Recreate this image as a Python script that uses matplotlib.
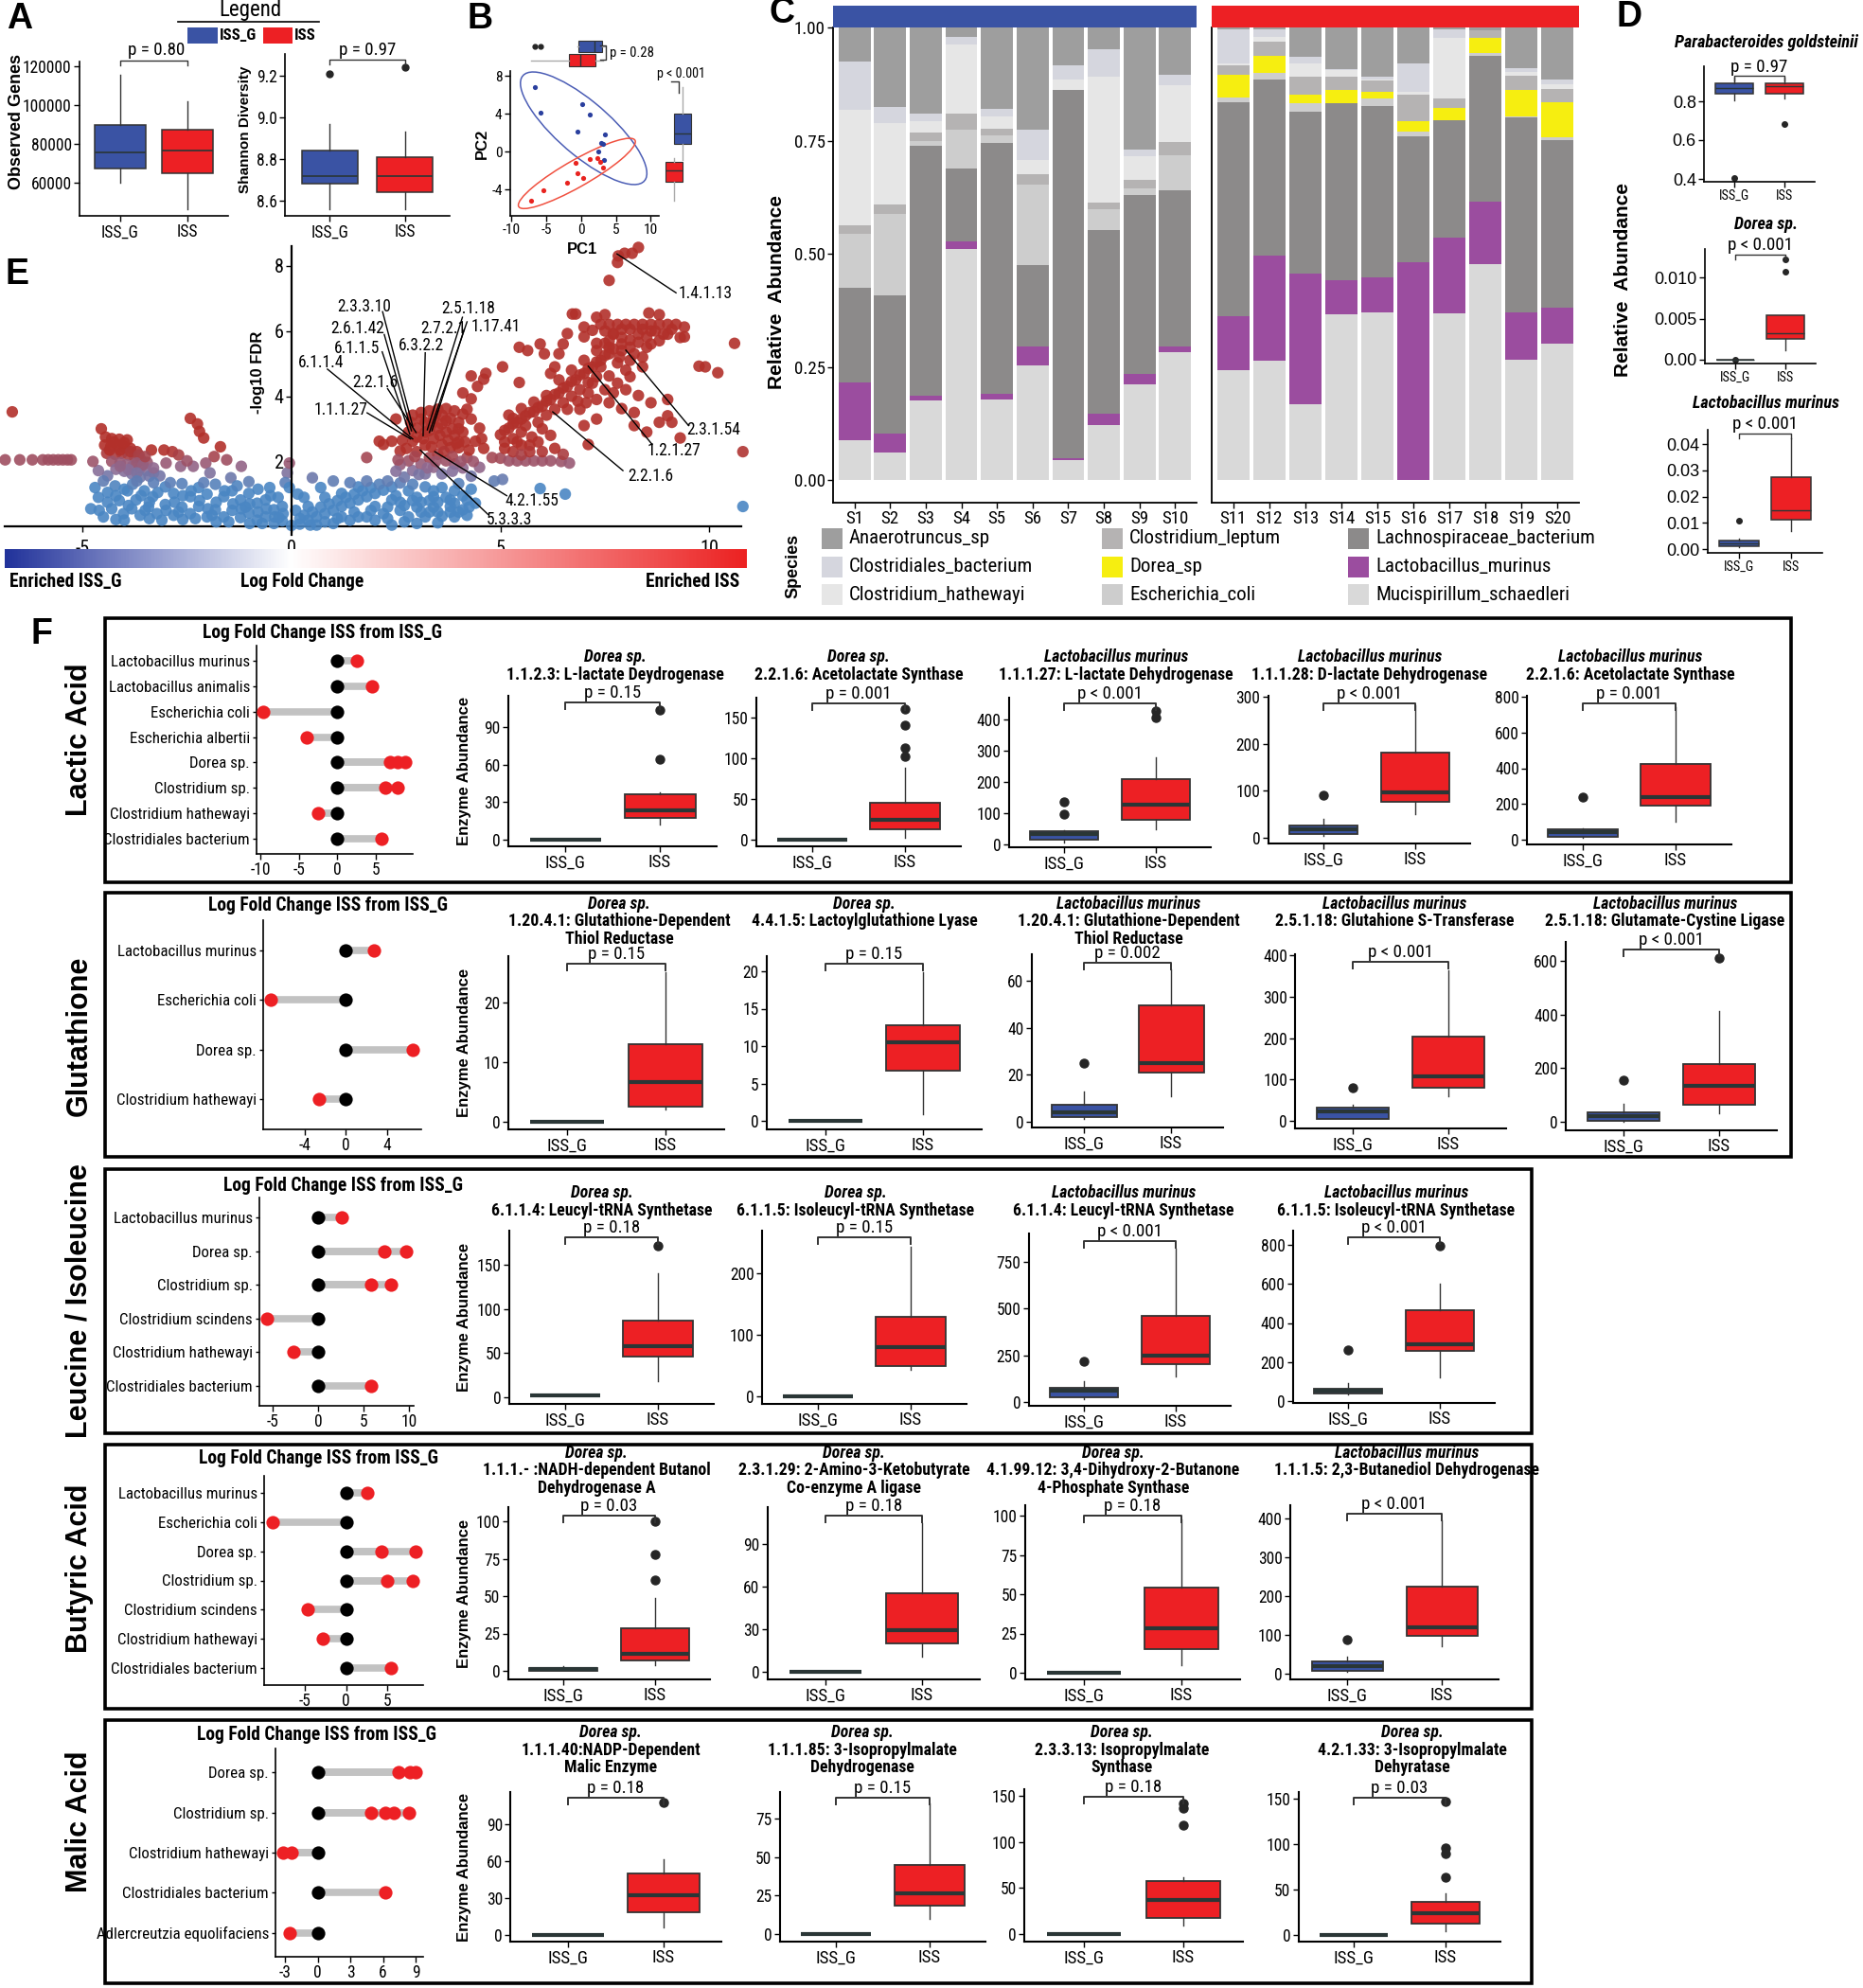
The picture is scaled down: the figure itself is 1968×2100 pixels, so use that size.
import matplotlib
matplotlib.use('Agg')
import matplotlib.pyplot as plt
import numpy as np
from matplotlib import font_manager, cbook
from matplotlib.patches import Rectangle, Ellipse
from matplotlib.lines import Line2D
from matplotlib.colors import LinearSegmentedColormap, TwoSlopeNorm, Normalize

# fuentes: se busca una letra condensada parecida a la del original
_fonts = font_manager.fontManager.ttflist
_names = {f.name for f in _fonts}
STRETCH = 'normal'
if 'Liberation Sans Narrow' in _names:
    NARROW, NS = 'Liberation Sans Narrow', 1.0
elif 'Roboto Condensed' in _names:
    NARROW, NS = 'Roboto Condensed', 0.97
elif 'DejaVu Sans Condensed' in _names:
    NARROW, NS = 'DejaVu Sans Condensed', 0.9
elif any(f.name == 'DejaVu Sans' and f.stretch == 'condensed' for f in _fonts):
    NARROW, NS, STRETCH = 'DejaVu Sans', 0.9, 'condensed'
else:
    NARROW, NS = 'Liberation Sans', 0.84
WIDE = 'Liberation Sans'
plt.rcParams['font.family'] = [NARROW, 'DejaVu Sans']
plt.rcParams['font.stretch'] = STRETCH
plt.rcParams['axes.unicode_minus'] = False

BLUE = '#3a53a4'
RED = '#ed2024'
EDGE = '#333333'

# ---------------- datos ----------------
groups = ['ISS_G', 'ISS']

# A  (bigote inf, q1, mediana, q3, bigote sup)
obs_genes_iss_g = [60200, 67500, 75700, 89700, 115400]
obs_genes_iss = [46200, 65100, 76400, 87300, 102000]
shannon_iss_g = [8.56, 8.68, 8.72, 8.84, 8.97]
shannon_iss = [8.56, 8.64, 8.72, 8.81, 8.93]
shannon_out_iss_g = [9.21]
shannon_out_iss = [9.24]

# B  PCA
pc1_iss_g = [-6.6, -5.8, 0.1, 1.3, -0.5, 3.4, 2.9, 3.1, 3.3, 2.5]
pc2_iss_g = [6.8, 4.1, 5.0, 3.9, 2.1, 1.8, 0.9, 0.8, -0.9, 0.0]
pc1_iss = [-7.2, -5.4, -2.0, -0.5, 0.3, -0.8, 1.3, 2.4, 2.7, 3.1]
pc2_iss = [-5.2, -4.1, -3.3, -2.3, -2.8, -1.2, -0.8, -0.7, -1.1, -1.7]

# C  abundancia relativa por especie (S1..S20)
samples = ['S1', 'S2', 'S3', 'S4', 'S5', 'S6', 'S7', 'S8', 'S9', 'S10',
           'S11', 'S12', 'S13', 'S14', 'S15', 'S16', 'S17', 'S18', 'S19', 'S20']
species = ['Anaerotruncus_sp', 'Clostridiales_bacterium', 'Clostridium_hathewayi',
           'Clostridium_leptum', 'Dorea_sp', 'Escherichia_coli',
           'Lachnospiraceae_bacterium', 'Lactobacillus_murinus', 'Mucispirillum_schaedleri']
species_colors = ['#9e9e9e', '#d5d6de', '#e6e6e6', '#b5b3b3', '#f6ee10',
                  '#cdcdcd', '#8c8a8a', '#9b4d9f', '#d9d9d9']
anaerotruncus = [.075, .176, .190, .020, .179, .226, .084, .048, .270, .105,
                 .004, .005, .065, .092, .109, .079, .007, .007, .092, .114]
clostridiales_bact = [.107, .036, .018, .017, .018, .067, .031, .060, .014, .023,
                      .075, .015, .014, .003, .005, .064, .017, .000, .009, .011]
clostridium_hath = [.256, .179, .025, .153, .026, .032, .024, .279, .052, .126,
                    .005, .011, .030, .014, .004, .005, .135, .000, .008, .012]
clostridium_lept = [.017, .021, .017, .035, .016, .022, .000, .014, .019, .029,
                    .021, .031, .039, .030, .025, .059, .021, .015, .032, .028]
dorea = [0, 0, 0, 0, 0, 0, 0, 0, 0, 0,
         .049, .039, .019, .028, .013, .024, .026, .034, .058, .077]
escherichia = [.120, .180, .011, .087, .017, .179, .000, .047, .016, .076,
               .011, .013, .019, .000, .017, .009, .002, .006, .002, .007]
lachno = [.209, .306, .553, .160, .554, .179, .813, .406, .394, .346,
          .472, .391, .357, .391, .379, .279, .258, .322, .430, .370]
lacto = [.128, .041, .010, .017, .012, .041, .003, .024, .023, .012,
         .120, .232, .290, .076, .078, .481, .168, .139, .105, .080]
mucispirillum = [.088, .061, .176, .511, .178, .254, .045, .122, .212, .283,
                 .243, .263, .167, .366, .370, .000, .368, .477, .266, .301]

# D
parab_iss_g = [0.804, 0.839, 0.866, 0.895, 0.92]
parab_iss = [0.814, 0.837, 0.88, 0.891, 0.92]
parab_out_g = [0.406]
parab_out = [0.682]
dorea_rel_iss_g = [0, 0, 0, 0, 0]
dorea_rel_iss = [0.00114, 0.0025, 0.00318, 0.00536, 0.00536]
dorea_rel_out_g = [0.0]
dorea_rel_out = [0.0107, 0.0122]
lmur_rel_iss_g = [0.0008, 0.0012, 0.0023, 0.0033, 0.004]
lmur_rel_iss = [0.0069, 0.0112, 0.0148, 0.0273, 0.0422]
lmur_rel_out_g = [0.0109]
lmur_rel_out = []

# E  volcano (log fold change, -log10 FDR)
volcano_pts = [
    # izquierda, linea plana y brazo rojo
    (-6.85, 2.05), (-6.5, 2.05), (-6.2, 2.05), (-5.95, 2.05), (-5.82, 2.05), (-5.7, 2.05), (-5.58, 2.05),
    (-5.47, 2.05), (-5.36, 2.05), (-5.27, 2.05), (-6.68, 3.52),
    (-4.55, 3.0), (-4.45, 2.75), (-4.3, 2.7), (-4.12, 2.68), (-3.93, 2.66), (-4.47, 2.5), (-4.32, 2.47),
    (-4.16, 2.5), (-4.0, 2.45), (-3.85, 2.4), (-3.7, 2.3), (-4.42, 2.25), (-4.22, 2.22), (-4.06, 2.25),
    (-3.9, 2.2), (-3.75, 2.12), (-3.6, 2.05), (-3.45, 1.97), (-4.3, 2.0), (-4.1, 1.96), (-3.95, 1.9),
    (-3.8, 1.86), (-3.62, 1.8), (-3.47, 1.72), (-3.3, 1.65), (-3.15, 1.56), (-4.2, 1.76), (-4.0, 1.7),
    (-3.82, 1.62), (-3.62, 1.52), (-4.4, 1.56), (-4.62, 1.72), (-4.75, 2.0), (-3.35, 2.35), (-3.05, 2.35),
    (-2.85, 2.3), (-2.7, 2.2), (-2.42, 3.32), (-2.25, 3.15), (-2.2, 2.92), (-2.1, 2.72), (-1.7, 2.45),
    (-1.55, 2.05), (-1.85, 2.15), (-2.05, 1.95), (-2.35, 1.85), (-1.2, 1.85), (-1.45, 1.5), (-1.95, 1.65),
    (-2.65, 1.85), (-3.0, 1.95), (-2.5, 2.02), (-0.1, 1.65), (-0.05, 1.95), (-0.15, 1.35),
    (-4.35, 2.35), (-4.1, 2.35), (-3.85, 2.3), (-3.65, 2.2), (-4.25, 2.6), (-4.0, 2.58), (-3.7, 1.95),
    (-3.55, 1.9), (-3.9, 1.75), (-3.7, 1.65), (-4.1, 1.85), (-3.4, 1.55), (-3.3, 1.8), (-3.5, 2.15),
    # izquierda, nube azul
    (-4.8, 0.55), (-4.62, 0.9), (-4.7, 1.2), (-4.5, 0.3), (-4.3, 0.55), (-4.12, 0.8), (-3.92, 1.1),
    (-4.22, 1.25), (-3.72, 0.82), (-3.52, 1.1), (-3.32, 0.92), (-3.02, 1.22), (-2.82, 1.02), (-2.62, 1.32),
    (-2.42, 0.92), (-2.22, 1.2), (-2.02, 1.0), (-1.82, 1.3), (-1.62, 0.92), (-1.42, 1.1), (-1.22, 0.82),
    (-1.02, 1.02), (-0.82, 0.72), (-0.62, 0.82), (-0.42, 0.52), (-0.22, 0.62), (-4.02, 0.4), (-3.62, 0.35),
    (-3.22, 0.4), (-2.82, 0.35), (-2.42, 0.4), (-2.02, 0.3), (-1.62, 0.3), (-1.22, 0.28), (-0.82, 0.2),
    (-0.42, 0.1), (0.0, 0.04), (-3.42, 0.6), (-3.02, 0.68), (-2.62, 0.6), (-2.22, 0.62), (-1.82, 0.52),
    (-1.42, 0.5), (-1.02, 0.42), (-0.62, 0.3), (-0.22, 0.18), (-1.02, 1.38), (-0.52, 1.2), (-0.32, 0.9),
    (-3.82, 0.55), (-4.2, 0.22), (-3.4, 0.25), (-2.6, 0.22), (-1.8, 0.15), (-1.0, 0.1),
    (-4.4, 0.75), (-4.2, 0.95), (-4.0, 1.15), (-3.8, 1.3), (-3.6, 0.95), (-3.4, 0.75), (-3.2, 1.05),
    (-3.0, 0.5), (-2.8, 0.75), (-2.6, 0.95), (-2.4, 1.1), (-2.2, 0.8), (-2.0, 0.55), (-1.8, 0.75),
    (-1.6, 1.1), (-1.4, 0.7), (-1.2, 0.55), (-1.0, 0.7), (-0.8, 0.45), (-0.6, 0.55), (-0.4, 0.3),
    (-0.2, 0.4), (-4.4, 1.05), (-3.9, 0.65), (-3.5, 0.5), (-3.1, 0.2), (-2.7, 0.45), (-2.3, 0.25),
    (-1.9, 0.35), (-1.5, 0.15), (-1.1, 0.6), (-0.7, 0.1), (-0.3, 0.28), (-4.6, 0.5), (-4.0, 0.2),
    (-2.9, 1.35), (-2.1, 1.35), (-1.3, 1.25), (-0.8, 1.15), (-0.5, 0.95), (-4.5, 1.4), (-3.7, 1.4),
    (-3.3, 1.35),
    # derecha, nube azul
    (0.2, 0.08), (0.4, 0.2), (0.6, 0.3), (0.8, 0.4), (1.0, 0.5), (1.2, 0.62), (1.4, 0.72), (1.6, 0.82),
    (1.8, 0.92), (2.0, 1.02), (2.2, 1.12), (2.4, 1.22), (2.6, 1.34), (0.4, 0.62), (0.8, 0.9), (1.2, 1.02),
    (1.6, 1.22), (0.6, 0.05), (1.0, 0.1), (1.4, 0.2), (1.8, 0.3), (2.2, 0.4), (2.6, 0.5), (3.0, 0.6),
    (3.4, 0.6), (3.8, 0.62), (4.1, 0.52), (4.4, 0.72), (3.0, 0.9), (3.4, 0.92), (3.8, 0.82), (4.2, 0.82),
    (2.8, 0.3), (3.2, 0.3), (3.6, 0.32), (3.9, 0.3), (2.0, 0.62), (2.4, 0.82), (2.8, 1.1), (3.2, 1.22),
    (3.6, 1.2), (4.3, 1.55), (4.0, 1.32), (5.05, 1.45), (4.85, 1.4), (5.95, 1.17), (6.55, 1.0), (1.0, 1.4),
    (0.5, 1.5), (2.0, 0.2), (1.5, 0.45), (3.0, 0.1), (3.5, 0.12), (2.4, 0.05), (1.2, 0.3), (2.6, 0.75),
    (3.3, 0.45), (4.0, 0.45),
    (0.3, 0.35), (0.5, 0.45), (0.7, 0.6), (0.9, 0.7), (1.1, 0.8), (1.3, 0.9), (1.5, 1.0), (1.7, 1.1),
    (1.9, 1.2), (2.1, 1.3), (2.3, 1.4), (0.2, 0.25), (0.45, 0.05), (0.8, 0.15), (1.1, 0.25), (1.6, 0.3),
    (1.9, 0.5), (2.3, 0.6), (2.7, 0.65), (3.1, 0.75), (3.5, 0.75), (3.9, 0.72), (4.25, 0.6), (2.5, 0.95),
    (2.9, 0.8), (3.3, 0.8), (3.7, 0.9), (4.1, 0.95), (2.3, 0.25), (2.7, 0.15), (3.1, 0.45), (3.5, 0.45),
    (3.8, 0.45), (4.2, 0.35), (1.4, 1.35), (0.7, 1.2), (0.3, 0.9), (1.8, 1.4), (2.9, 1.3), (3.4, 1.1),
    (3.9, 1.1), (4.3, 1.15), (0.1, 0.5), (0.15, 1.0), (-0.05, 1.2),
    # derecha, brazo rojo
    (2.7, 1.52), (2.9, 1.72), (3.1, 1.92), (3.3, 2.12), (2.8, 2.02), (3.0, 2.3), (3.2, 2.5), (2.9, 2.62),
    (2.8, 2.9), (3.0, 3.02), (3.2, 3.2), (3.4, 3.32), (3.6, 3.42), (3.8, 3.32), (4.0, 3.2), (3.5, 3.02),
    (3.7, 2.9), (3.9, 2.8), (4.1, 2.9), (3.4, 2.7), (3.6, 2.52), (3.8, 2.42), (4.0, 2.42), (3.5, 2.22),
    (3.7, 2.02), (3.9, 1.92), (4.1, 1.8), (3.4, 1.82), (3.6, 1.62), (3.2, 1.62), (2.9, 3.42), (3.1, 3.5),
    (3.3, 3.55), (3.5, 3.6), (4.2, 3.6), (4.3, 3.92), (4.45, 4.3), (4.6, 4.52), (4.65, 4.7), (4.3, 3.3),
    (4.5, 3.02), (4.4, 2.62), (4.6, 2.4), (2.2, 2.52), (2.6, 2.32), (2.4, 2.62), (1.8, 2.12), (2.1, 2.62),
    (2.5, 3.3), (4.1, 4.1), (4.3, 4.62), (4.0, 2.6), (4.8, 2.12), (4.5, 1.82), (4.2, 2.12), (3.0, 2.75),
    (3.3, 2.95), (2.6, 1.9), (3.7, 3.62), (3.9, 3.55), (2.5, 1.7), (5.05, 4.9),
    (2.75, 2.4), (2.95, 2.15), (3.15, 2.7), (3.35, 2.45), (3.55, 2.8), (3.75, 2.65), (3.95, 2.55),
    (4.15, 2.6), (3.25, 1.8), (3.45, 2.0), (3.65, 2.3), (3.85, 2.15), (4.05, 2.0), (4.25, 2.35),
    (3.05, 1.6), (3.85, 1.7), (3.1, 3.3), (3.35, 3.15), (3.6, 3.15), (3.85, 3.0), (4.1, 3.45),
    (3.2, 2.9), (2.65, 2.65), (2.85, 3.2), (3.45, 3.45), (3.7, 3.25), (4.0, 3.0), (2.55, 2.05),
    (4.35, 2.0), (4.55, 2.7),
    # extremo derecho
    (5.0, 2.1), (5.2, 2.02), (5.4, 2.02), (5.6, 2.02), (5.8, 2.02), (6.0, 2.02), (6.2, 2.02), (6.45, 2.0),
    (6.65, 1.95), (5.3, 2.3), (5.5, 2.5), (5.7, 2.5), (5.1, 2.6), (5.3, 2.7), (5.5, 2.9), (5.0, 2.82),
    (5.2, 3.02), (5.4, 3.2), (5.6, 3.4), (5.8, 3.52), (6.0, 3.7), (6.2, 3.9), (6.4, 4.1), (6.6, 4.3),
    (6.8, 4.5), (7.0, 4.7), (7.2, 4.9), (7.4, 5.1), (7.6, 5.3), (5.3, 3.32), (5.6, 3.1), (5.9, 3.2),
    (6.1, 3.42), (6.3, 3.6), (6.5, 3.8), (6.7, 4.0), (6.9, 4.2), (7.1, 4.42), (7.3, 4.6), (5.8, 3.82),
    (6.1, 4.02), (6.4, 4.5), (6.7, 4.8), (7.0, 5.1), (7.3, 5.4), (7.5, 5.62), (7.7, 5.9), (5.5, 3.62),
    (5.2, 3.42), (5.1, 2.4), (5.5, 2.2), (5.9, 2.6), (6.2, 2.8), (6.0, 3.0), (5.45, 4.42), (5.45, 5.5),
    (5.65, 5.4), (5.95, 5.6), (6.05, 5.3), (6.2, 4.7), (6.4, 5.3), (6.5, 5.6), (6.3, 4.9), (6.72, 6.52),
    (6.6, 5.92), (7.4, 6.2), (7.6, 6.2), (7.8, 6.2), (8.0, 6.2), (8.2, 6.2), (8.4, 6.2), (8.6, 6.2),
    (8.8, 6.2), (9.0, 6.2), (9.2, 6.2), (9.4, 6.12), (7.5, 6.0), (7.7, 5.92), (7.9, 5.8), (8.1, 5.72),
    (8.3, 5.9), (8.5, 5.82), (8.7, 6.0), (9.0, 5.9), (9.3, 5.8), (7.2, 6.02), (7.0, 5.82), (7.3, 5.62),
    (7.6, 5.5), (7.9, 5.4), (8.2, 5.3), (8.5, 5.5), (8.8, 5.7), (7.8, 5.02), (8.0, 4.8), (7.4, 4.9),
    (7.6, 4.62), (7.2, 4.4), (7.5, 4.2), (7.8, 4.4), (8.1, 4.6), (8.4, 4.9), (8.3, 4.02), (8.6, 3.8),
    (8.2, 3.5), (7.9, 3.62), (7.6, 3.8), (8.8, 3.2), (9.0, 3.4), (9.1, 3.2), (9.3, 2.72), (7.3, 3.3),
    (6.9, 3.6), (7.0, 3.1), (8.55, 6.55), (8.8, 6.5), (9.4, 5.82), (9.9, 4.9), (10.2, 4.72), (10.6, 5.62),
    (10.8, 2.3), (10.8, 0.62), (7.3, 6.42), (7.5, 6.5), (9.0, 3.9), (8.2, 3.1), (8.5, 2.9), (7.1, 2.52),
    (6.5, 2.22), (7.82, 8.3), (7.97, 8.38), (8.15, 8.38), (8.3, 8.56), (7.8, 8.1), (7.6, 7.55), (6.8, 6.52),
    (7.0, 6.12), (9.75, 4.92),
    (5.1, 2.95), (5.3, 3.15), (5.5, 3.3), (5.7, 3.5), (5.9, 3.65), (6.1, 3.85), (6.3, 4.05), (6.5, 4.25),
    (6.7, 4.45), (6.9, 4.65), (7.1, 4.85), (7.3, 5.05), (7.5, 5.25), (7.7, 5.45), (7.9, 5.6), (8.1, 5.5),
    (8.3, 5.65), (8.6, 5.6), (8.9, 5.9), (9.1, 6.05), (7.9, 6.05), (8.1, 6.05), (8.4, 6.05), (8.6, 6.0),
    (7.6, 5.7), (7.85, 5.2), (8.1, 5.1), (8.4, 5.2), (7.1, 4.1), (7.3, 3.9), (7.7, 4.1), (8.0, 4.2),
    (5.7, 2.3), (6.0, 2.3), (6.3, 2.4), (5.4, 2.6), (5.75, 2.75), (6.6, 3.6), (6.85, 3.85), (7.05, 3.8),
]
# etiquetas EC: texto, posicion del texto y linea (x0, y0, x1, y1)
ec_labels = ['1.4.1.13', '2.3.3.10', '2.6.1.42', '6.1.1.5', '6.1.1.4', '2.2.1.6', '1.1.1.27',
             '2.5.1.18', '2.7.2.1', '1.17.41', '6.3.2.2', '4.2.1.55', '5.3.3.3', '2.2.1.6',
             '1.2.1.27', '2.3.1.54']
ec_text_xy = [(9.25, 7.15), (1.74, 6.74), (1.57, 6.08), (1.56, 5.46), (0.70, 5.02), (2.0, 4.42),
              (1.18, 3.59), (4.22, 6.69), (3.63, 6.08), (4.88, 6.13), (3.1, 5.55), (5.75, 0.8),
              (5.2, 0.2), (8.6, 1.55), (9.16, 2.33), (10.09, 2.96)]
ec_lines = [(7.79, 8.36, 9.2, 7.17), (2.18, 6.59, 2.9, 3.08), (2.22, 5.89, 2.87, 2.94),
            (2.17, 5.36, 2.83, 2.84), (0.86, 4.83, 2.9, 2.69), (2.3, 4.23, 2.98, 2.89),
            (1.81, 3.49, 2.85, 2.69), (4.09, 6.42, 3.25, 2.97), (4.2, 6.28, 3.3, 2.89),
            (4.13, 6.04, 3.36, 2.94), (3.2, 5.33, 3.15, 2.79), (3.43, 2.3, 5.15, 0.95),
            (3.08, 2.35, 4.7, 0.38), (6.25, 3.52, 7.93, 1.72), (7.1, 4.92, 8.63, 2.52),
            (8.0, 5.41, 9.5, 3.1)]

# F  -- Lactic acid
lactic_species = ['Lactobacillus murinus', 'Lactobacillus animalis', 'Escherichia coli',
                  'Escherichia albertii', 'Dorea sp.', 'Clostridium sp.',
                  'Clostridium hathewayi', 'Clostridiales bacterium']
lactic_lfc = [[2.5], [4.5], [-9.6], [-4.0], [6.9, 7.8, 8.8], [6.2, 7.8], [-2.5], [5.8]]
lactic_titles = [['Dorea sp.', '1.1.2.3: L-lactate Deydrogenase'],
                 ['Dorea sp.', '2.2.1.6: Acetolactate Synthase'],
                 ['Lactobacillus murinus', '1.1.1.27: L-lactate Dehydrogenase'],
                 ['Lactobacillus murinus', '1.1.1.28: D-lactate Dehydrogenase'],
                 ['Lactobacillus murinus', '2.2.1.6: Acetolactate Synthase']]
lactic_p = ['p = 0.15', 'p = 0.001', 'p < 0.001', 'p < 0.001', 'p = 0.001']
lactic_iss_g = [[0, 0, 0, 0, 0], [0, 0, 0, 0, 0], [5, 15.1, 32, 42.3, 45],
                [4.7, 8.7, 18, 25.4, 39.5], [12, 17.6, 42, 59.8, 65]]
lactic_iss = [[11.8, 17.5, 23.8, 36.6, 38.0], [2.7, 13.2, 24.0, 45.3, 87.8],
              [47.4, 79.6, 128, 210.6, 279], [50, 77, 95.7, 180.6, 281], [100, 193, 241, 425, 742]]
lactic_out_g = [[], [], [97.7, 136], [91.6], [237]]
lactic_out = [[64.4, 103.8], [102, 113, 141, 160], [405, 428], [], []]
lactic_yticks = [[0, 30, 60, 90], [0, 50, 100, 150], [0, 100, 200, 300, 400],
                 [0, 100, 200, 300], [0, 200, 400, 600, 800]]

# F  -- Glutathione
glut_species = ['Lactobacillus murinus', 'Escherichia coli', 'Dorea sp.', 'Clostridium hathewayi']
glut_lfc = [[2.7], [-7.3], [6.5], [-2.6]]
glut_titles = [['Dorea sp.', '1.20.4.1: Glutathione-Dependent', 'Thiol Reductase'],
               ['Dorea sp.', '4.4.1.5: Lactoylglutathione Lyase'],
               ['Lactobacillus murinus', '1.20.4.1: Glutathione-Dependent', 'Thiol Reductase'],
               ['Lactobacillus murinus', '2.5.1.18: Glutahione S-Transferase'],
               ['Lactobacillus murinus', '2.5.1.18: Glutamate-Cystine Ligase']]
glut_p = ['p = 0.15', 'p = 0.15', 'p = 0.002', 'p < 0.001', 'p < 0.001']
glut_iss_g = [[0, 0, 0, 0, 0], [0, 0, 0, 0, 0], [1.3, 2.0, 4.0, 7.1, 13],
              [3.8, 5.3, 22.9, 32, 39.7], [0, 3.5, 20, 35.3, 67]]
glut_iss = [[2.1, 2.5, 6.6, 13.0, 25.1], [0.9, 6.7, 10.45, 12.74, 19.9],
            [10.7, 20.8, 25.1, 49.7, 64.7], [58.8, 80.2, 108.4, 203.8, 364],
            [33, 64.7, 133, 215, 411.8]]
glut_out_g = [[], [], [24.8], [79.4], [156.5]]
glut_out = [[], [], [], [], [611.8]]
glut_yticks = [[0, 10, 20], [0, 5, 10, 15, 20], [0, 20, 40, 60], [0, 100, 200, 300, 400],
               [0, 200, 400, 600]]

# F  -- Leucine / Isoleucine
leu_species = ['Lactobacillus murinus', 'Dorea sp.', 'Clostridium sp.', 'Clostridium scindens',
               'Clostridium hathewayi', 'Clostridiales bacterium']
leu_lfc = [[2.6], [7.3, 9.7], [5.8, 8.0], [-5.7], [-2.7], [5.8]]
leu_titles = [['Dorea sp.', '6.1.1.4: Leucyl-tRNA Synthetase'],
              ['Dorea sp.', '6.1.1.5: Isoleucyl-tRNA Synthetase'],
              ['Lactobacillus murinus', '6.1.1.4: Leucyl-tRNA Synthetase'],
              ['Lactobacillus murinus', '6.1.1.5: Isoleucyl-tRNA Synthetase']]
leu_p = ['p = 0.18', 'p = 0.15', 'p < 0.001', 'p < 0.001']
leu_iss_g = [[1.8, 1.8, 1.8, 1.8, 1.8], [0, 0, 0, 0, 0], [16.9, 23.6, 62.5, 74, 113],
             [32.3, 40.4, 51.7, 64.6, 93.7]]
leu_iss = [[17.9, 45.7, 57.5, 86.8, 140], [43.6, 49.7, 79.5, 129.7, 243.6],
           [138.5, 201, 248.6, 459.5, 822.6], [121, 255.4, 291, 465.5, 601]]
leu_out_g = [[], [], [218], [261.8]]
leu_out = [[171.4], [], [], [796.8]]
leu_yticks = [[0, 50, 100, 150], [0, 100, 200], [0, 250, 500, 750], [0, 200, 400, 600, 800]]

# F  -- Butyric acid
but_species = ['Lactobacillus murinus', 'Escherichia coli', 'Dorea sp.', 'Clostridium sp.',
               'Clostridium scindens', 'Clostridium hathewayi', 'Clostridiales bacterium']
but_lfc = [[2.6], [-8.9], [4.3, 8.4], [5.0, 8.0], [-4.6], [-2.8], [5.4]]
but_titles = [['Dorea sp.', '1.1.1.- :NADH-dependent Butanol', 'Dehydrogenase A'],
              ['Dorea sp.', '2.3.1.29: 2-Amino-3-Ketobutyrate', 'Co-enzyme A ligase'],
              ['Dorea sp.', '4.1.99.12: 3,4-Dihydroxy-2-Butanone', '4-Phosphate Synthase'],
              ['Lactobacillus murinus', '1.1.1.5: 2,3-Butanediol Dehydrogenase']]
but_p = ['p = 0.03', 'p = 0.18', 'p = 0.18', 'p < 0.001']
but_iss_g = [[0, 0, 1.5, 2.1, 3.2], [0, 0, 0, 0, 0], [0, 0, 0, 0, 0], [6, 6.5, 19.5, 32.5, 45]]
but_iss = [[3.6, 7.0, 11.6, 28.5, 48.6], [11, 20, 29.6, 55.6, 105], [4.8, 15.3, 28.2, 54, 97.6],
           [71.5, 97.6, 120, 224, 396]]
but_out_g = [[], [], [], [88]]
but_out = [[60.7, 78, 100], [], [], []]
but_yticks = [[0, 25, 50, 75, 100], [0, 30, 60, 90], [0, 25, 50, 75, 100], [0, 100, 200, 300, 400]]

# F  -- Malic acid
mal_species = ['Dorea sp.', 'Clostridium sp.', 'Clostridium hathewayi', 'Clostridiales bacterium',
               'Adlercreutzia equolifaciens']
mal_lfc = [[7.4, 8.5, 9.0], [4.9, 6.2, 7.0, 8.4], [-3.2, -2.4], [6.2], [-2.6]]
mal_titles = [['Dorea sp.', '1.1.1.40:NADP-Dependent', 'Malic Enzyme'],
              ['Dorea sp.', '1.1.1.85: 3-Isopropylmalate', 'Dehydrogenase'],
              ['Dorea sp.', '2.3.3.13: Isopropylmalate', 'Synthase'],
              ['Dorea sp.', '4.2.1.33: 3-Isopropylmalate', 'Dehyratase']]
mal_p = ['p = 0.18', 'p = 0.15', 'p = 0.18', 'p = 0.03']
mal_iss_g = [[0, 0, 0, 0, 0], [0, 0, 0, 0, 0], [0, 0, 0, 0, 0], [0, 0, 0, 0, 0]]
mal_iss = [[6.4, 18.2, 32.6, 50, 61.3], [10, 18.3, 26.5, 44.8, 85], [9.6, 17.9, 37.2, 57.8, 62],
           [4, 12.5, 23.6, 36, 46]]
mal_out_g = [[], [], [], []]
mal_out = [[107.4], [], [118, 137, 142], [64, 90, 96, 147]]
mal_yticks = [[0, 30, 60, 90], [0, 25, 50, 75], [0, 50, 100, 150], [0, 50, 100, 150]]

# ---------------- figura ----------------
W, H = 1968, 2100
fig = plt.figure(figsize=(W / 100, H / 100), dpi=100)


def px_axes(x0, y0, x1, y1):
    return fig.add_axes([x0 / W, 1 - y1 / H, (x1 - x0) / W, (y1 - y0) / H])


def ftext(x, y, s, **kw):
    kw.setdefault('ha', 'center')
    kw.setdefault('va', 'center')
    return fig.text(x / W, 1 - y / H, s, **kw)


def fline(xs, ys, **kw):
    fig.add_artist(Line2D([x / W for x in xs], [1 - y / H for y in ys], **kw))


def frect(x0, y0, x1, y1, **kw):
    fig.add_artist(Rectangle((x0 / W, 1 - y1 / H), (x1 - x0) / W, (y1 - y0) / H,
                             transform=fig.transFigure, **kw))


def lim_from_px(va, pa, vb, pb, top, bot):
    k = (vb - va) / (pb - pa)
    return va + (bot - pa) * k, va + (top - pa) * k


def val_at_px(va, pa, vb, pb, p):
    return va + (p - pa) * (vb - va) / (pb - pa)


def style(ax, fs=13, fam=None, lw=1.4):
    for s in ('top', 'right'):
        ax.spines[s].set_visible(False)
    for s in ('left', 'bottom'):
        ax.spines[s].set_linewidth(lw)
    ax.tick_params(axis='both', length=4, width=1, labelsize=fs, pad=2,
                   labelfontfamily=fam if fam else NARROW)


def five(s, fl):
    return dict(whislo=s[0], q1=s[1], med=s[2], q3=s[3], whishi=s[4], fliers=list(fl))


def draw_bxp(ax, stats, colors, positions, widths, orient='vertical', lw=1.1,
             med_lw=2.8, ms=6, med_color='#2a3636', wh_color=EDGE):
    kw = dict(positions=positions, widths=widths, patch_artist=True, showcaps=False,
              boxprops=dict(edgecolor=EDGE, linewidth=lw),
              medianprops=dict(color=med_color, linewidth=med_lw, solid_capstyle='butt'),
              whiskerprops=dict(color=wh_color, linewidth=1.0),
              flierprops=dict(marker='o', markerfacecolor='#262626', markeredgecolor='#262626',
                              markersize=ms, linestyle='none'),
              manage_ticks=False)
    try:
        art = ax.bxp(stats, orientation=orient, **kw)
    except TypeError:
        art = ax.bxp(stats, vert=(orient == 'vertical'), **kw)
    for p, c in zip(art['boxes'], colors):
        p.set_facecolor(c)
    return art


def bracket(ax, yb, drop, lw=1.1):
    ax.plot([1, 1, 2, 2], [yb - drop, yb, yb, yb - drop], color=EDGE, lw=lw, clip_on=False)


# ---- etiquetas de panel
for lab, x, y in [('A', 21, 20), ('B', 507, 20), ('C', 826, 14), ('D', 1721, 18),
                  ('E', 18, 290), ('F', 44, 670)]:
    ftext(x, y, lab, family=WIDE, weight='bold', fontsize=27)

# ---- A
ftext(264, 10, 'Legend', fontsize=17 * NS)
fline([188, 337], [23, 23], color='black', lw=1.2)
frect(198, 29, 230, 46, facecolor=BLUE, edgecolor='none')
ftext(232, 38, 'ISS_G', ha='left', weight='bold', fontsize=12.5 * NS)
frect(278, 29, 309, 46, facecolor=RED, edgecolor='none')
ftext(311, 38, 'ISS', ha='left', weight='bold', fontsize=12.5 * NS)

axa = px_axes(84, 65, 241, 228)
draw_bxp(axa, [five(obs_genes_iss_g, []), five(obs_genes_iss, [])], [BLUE, RED], [1, 2], 0.75,
         med_lw=1.2)
axa.set_ylim(*lim_from_px(120000, 70, 60000, 193, 65, 228))
axa.set_xlim(0.4, 2.6)
axa.set_xticks([1, 2], groups)
axa.set_yticks([60000, 80000, 100000, 120000], ['60000', '80000', '100000', '120000'])
style(axa, fs=13 * NS, lw=1.2)
axa.plot([1, 1, 2, 2], [val_at_px(120000, 70, 60000, 193, p) for p in (69, 64, 64, 69)],
         color=EDGE, lw=1, clip_on=False)
ftext(165, 53, 'p = 0.80', fontsize=14 * NS)
ftext(18, 128, 'Observed Genes', rotation=90, family=WIDE, weight='bold', fontsize=13)

axs = px_axes(301, 57, 475, 228)
draw_bxp(axs, [five(shannon_iss_g, shannon_out_iss_g), five(shannon_iss, shannon_out_iss)],
         [BLUE, RED], [1, 2], 0.75, med_lw=1.2, ms=5)
axs.set_ylim(*lim_from_px(9.2, 80, 8.6, 212, 57, 228))
axs.set_xlim(0.4, 2.6)
axs.set_xticks([1, 2], groups)
axs.set_yticks([8.6, 8.8, 9.0, 9.2], ['8.6', '8.8', '9.0', '9.2'])
style(axs, fs=13 * NS, lw=1.2)
axs.plot([1, 1, 2, 2], [val_at_px(9.2, 80, 8.6, 212, p) for p in (68, 63, 63, 68)],
         color=EDGE, lw=1, clip_on=False)
ftext(388, 53, 'p = 0.97', fontsize=14 * NS)
ftext(259, 137, 'Shannon Diversity', rotation=90, family=WIDE, weight='bold', fontsize=11)

# ---- B
axb = px_axes(539, 75, 696, 228)
axb.scatter(pc1_iss_g, pc2_iss_g, s=14, color='#2a3f9e', zorder=3, linewidths=0)
axb.scatter(pc1_iss, pc2_iss, s=14, color='#e8231f', zorder=3, linewidths=0)


def conf_ellipse(ax, xs, ys, color):
    xs, ys = np.asarray(xs), np.asarray(ys)
    vals, vecs = np.linalg.eigh(np.cov(xs, ys))
    order = vals.argsort()[::-1]
    vals, vecs = vals[order], vecs[:, order]
    ang = np.degrees(np.arctan2(vecs[1, 0], vecs[0, 0]))
    k = np.sqrt(5.991)
    ax.add_patch(Ellipse((xs.mean(), ys.mean()), 2 * k * np.sqrt(vals[0]), 2 * k * np.sqrt(vals[1]),
                         angle=ang, fill=False, edgecolor=color, lw=1.1))


conf_ellipse(axb, pc1_iss_g, pc2_iss_g, '#4b5db5')
conf_ellipse(axb, pc1_iss, pc2_iss, '#f0503f')
axb.set_xlim(-10.2, 11.2)
axb.set_ylim(-6.8, 8.5)
axb.set_xticks([-10, -5, 0, 5, 10])
axb.set_yticks([-4, 0, 4, 8])
style(axb, fs=11.5 * NS, lw=1.2)
ftext(509, 152, 'PC2', rotation=90, family=WIDE, weight='bold', fontsize=12)
ftext(615, 263, 'PC1', family=WIDE, weight='bold', fontsize=12)

axbt = px_axes(539, 38, 696, 72)
st_top = cbook.boxplot_stats([pc1_iss, pc1_iss_g])
draw_bxp(axbt, st_top, [RED, BLUE], [0.5, 1.35], 0.75, orient='horizontal', lw=0.8,
         med_lw=1.0, ms=3.5, wh_color='#aaaaaa')
axbt.set_xlim(-10.2, 11.2)
axbt.set_ylim(0, 2)
axbt.axis('off')
fline([634, 640, 640, 634], [48, 48, 63, 63], color=EDGE, lw=1)
ftext(644, 56, 'p = 0.28', ha='left', fontsize=11 * NS)

axbr = px_axes(700, 75, 745, 228)
st_right = cbook.boxplot_stats([pc2_iss, pc2_iss_g])
draw_bxp(axbr, st_right, [RED, BLUE], [0.55, 0.95], 0.8, lw=0.8, med_lw=1.0, ms=3.5,
         wh_color='#aaaaaa')
axbr.set_xlim(0, 2)
axbr.set_ylim(-6.8, 8.5)
axbr.axis('off')
fline([709, 717, 717], [86, 86, 98], color=EDGE, lw=1)
ftext(720, 78, 'p < 0.001', fontsize=10.5 * NS)

# ---- C
stack = [mucispirillum, lacto, lachno, escherichia, dorea, clostridium_lept,
         clostridium_hath, clostridiales_bact, anaerotruncus]
stack_colors = [species_colors[species.index(s)] for s in
                ['Mucispirillum_schaedleri', 'Lactobacillus_murinus', 'Lachnospiraceae_bacterium',
                 'Escherichia_coli', 'Dorea_sp', 'Clostridium_leptum', 'Clostridium_hathewayi',
                 'Clostridiales_bacterium', 'Anaerotruncus_sp']]
for k, (fx0, fx1, hcol) in enumerate([(880, 1264, BLUE), (1280, 1668, RED)]):
    ax = px_axes(fx0, 29, fx1, 531)
    sl = slice(0, 10) if k == 0 else slice(10, 20)
    xs = np.arange(1, 11)
    bottom = np.zeros(10)
    for vals, col in zip(stack, stack_colors):
        v = np.array(vals[sl])
        ax.bar(xs, v, bottom=bottom, width=0.9, color=col, linewidth=0)
        bottom += v
    ax.set_xlim(0.4, 10.6)
    ax.set_ylim(-0.05, 1.0)
    ax.set_xticks(xs, samples[sl])
    ax.set_yticks([0, 0.25, 0.5, 0.75, 1.0])
    if k == 0:
        ax.set_yticklabels(['0.00', '0.25', '0.50', '0.75', '1.00'])
    else:
        ax.set_yticklabels([])
    style(ax, fs=14 * NS, lw=1.3)
    if k == 1:
        ax.tick_params(axis='y', length=0)
    frect(fx0, 6, fx1, 29, facecolor=hcol, edgecolor='none')
ftext(820, 308, 'Relative  Abundance', rotation=90, family=WIDE, weight='bold', fontsize=15)
ftext(838, 598, 'Species', rotation=90, family=WIDE, weight='bold', fontsize=13)
leg_x = [868, 1164, 1424]
leg_y = [569, 599, 628]
for i, (sp, col) in enumerate(zip(species, species_colors)):
    cx, ry = leg_x[i // 3], leg_y[i % 3]
    frect(cx, ry - 11, cx + 22, ry + 11, facecolor=col, edgecolor='none')
    ftext(cx + 29, ry, sp, ha='left', fontsize=15.5 * NS)

# ---- D
d_specs = [
    ('Parabacteroides goldsteinii', 'p = 0.97', parab_iss_g, parab_iss, parab_out_g, parab_out,
     (1832, 1885, 70, 192, 0.8, 107, 0.4, 189), [0.4, 0.6, 0.8], ['0.4', '0.6', '0.8'], 45, 71, 80),
    ('Dorea sp.', 'p < 0.001', dorea_rel_iss_g, dorea_rel_iss, dorea_rel_out_g, dorea_rel_out,
     (1833, 1886, 263, 384, 0.01, 293, 0.0, 380), [0, 0.005, 0.01], ['0.00', '0.005', '0.010'],
     237, 259, 269),
    ('Lactobacillus murinus', 'p < 0.001', lmur_rel_iss_g, lmur_rel_iss, lmur_rel_out_g,
     lmur_rel_out, (1837, 1892, 454, 584, 0.04, 469, 0.0, 580), [0, 0.01, 0.02, 0.03, 0.04],
     ['0.00', '0.01', '0.02', '0.03', '0.04'], 426, 448, 458),
]
for title, ptxt, sg, si, og, oi, lay, yt, ytl, ty, py, brk in d_specs:
    c1, c2, top, bot, va, pa, vb, pb = lay
    sp_ = c2 - c1
    ax = px_axes(c1 - 0.6 * sp_, top, c2 + 0.6 * sp_, bot)
    draw_bxp(ax, [five(sg, og), five(si, oi)], [BLUE, RED], [1, 2], 0.75, med_lw=1.0, ms=4)
    ax.set_ylim(*lim_from_px(va, pa, vb, pb, top, bot))
    ax.set_xlim(0.4, 2.6)
    ax.set_yticks(yt, ytl)
    ax.set_xticks([1, 2], groups)
    style(ax, fs=13, fam=WIDE, lw=1.2)
    ax.tick_params(axis='x', labelsize=10.5 * NS, labelfontfamily=NARROW)
    yb = val_at_px(va, pa, vb, pb, brk)
    drop = abs(val_at_px(va, pa, vb, pb, brk + 5) - yb)
    bracket(ax, yb, drop, lw=1.0)
    ftext((c1 + c2) / 2, py, ptxt, fontsize=14 * NS)
    ftext(1866, ty, title, weight='bold', style='italic', fontsize=13.5 * NS)
ftext(1715, 296, 'Relative  Abundance', rotation=90, family=WIDE, weight='bold', fontsize=15)

# ---- E
ve = px_axes(5, 260, 783, 565)
vx, vy = np.array(volcano_pts).T
vcmap = LinearSegmentedColormap.from_list('vol', ['#4a86c3', '#8e6c94', '#b2302a'])
ve.scatter(vx, vy, c=vy, cmap=vcmap, norm=Normalize(1.2, 2.35), s=78, alpha=0.9,
           linewidths=0, zorder=2, clip_on=False)
for lab, (tx, ty), (lx0, ly0, lx1, ly1) in zip(ec_labels, ec_text_xy, ec_lines):
    ve.plot([lx0, lx1], [ly0, ly1], color='black', lw=1.0, zorder=4)
    ha = 'left' if lab == '1.4.1.13' else 'center'
    ve.text(tx, ty, lab, ha=ha, va='center', fontsize=13 * NS, zorder=5)
ve.set_xlim(-6.86, 10.76)
ve.set_ylim(-0.25, 8.6)
ve.spines['left'].set_position(('data', 0))
ve.spines['bottom'].set_position(('data', 0))
ve.set_xticks([-5, 0, 5, 10])
ve.set_yticks([2, 4, 6, 8])
style(ve, fs=15 * NS, lw=1.6)
ve.spines['bottom'].set_zorder(1)
ve.tick_params(axis='x', pad=6)
ftext(273, 393, '-log10 FDR', rotation=90, family=WIDE, weight='bold', fontsize=12)

gax = px_axes(5, 580, 788, 600)
grad = np.linspace(-6.86, 10.95, 600)
gcmap = LinearSegmentedColormap.from_list('grad', ['#22339b', '#ffffff', '#ec2222'])
gax.imshow(grad[None, :], aspect='auto', cmap=gcmap,
           norm=TwoSlopeNorm(vmin=-6.86, vcenter=0, vmax=10.95), extent=(0, 1, 0, 1))
gax.axis('off')
ftext(10, 614, 'Enriched ISS_G', ha='left', weight='bold', fontsize=14.5 * NS)
ftext(319, 614, 'Log Fold Change', weight='bold', fontsize=14.5 * NS)
ftext(781, 614, 'Enriched ISS', ha='right', weight='bold', fontsize=14.5 * NS)

# ---- F   (c1, c2, arriba, abajo, tick a, px a, tick b, px b, corchete px, centro titulo)
f_rows = [
    dict(name='Lactic Acid', frame=(111, 653, 1892, 932), label_y=781,
         species=lactic_species, lfc=lactic_lfc, titles=lactic_titles, p=lactic_p,
         g=lactic_iss_g, i=lactic_iss, og=lactic_out_g, oi=lactic_out, yt=lactic_yticks,
         lolli=(271, 436, 682, 902, -10.5, 9.8, [-10, -5, 0, 5], 341, 668), ty0=694,
         boxes=[(597, 697, 735, 894, 0, 887, 90, 768, 742, 650),
                (858, 956, 737, 894, 0, 887, 150, 758, 743, 907),
                (1124, 1221, 737, 895, 0, 892, 400, 760, 743, 1179),
                (1398, 1495, 735, 891, 0, 885, 300, 736, 743, 1447),
                (1672, 1770, 735, 892, 0, 887, 800, 736, 743, 1722)]),
    dict(name='Glutathione', frame=(111, 943, 1892, 1222), label_y=1094,
         species=glut_species, lfc=glut_lfc, titles=glut_titles, p=glut_p,
         g=glut_iss_g, i=glut_iss, og=glut_out_g, oi=glut_out, yt=glut_yticks,
         lolli=(278, 445, 972, 1193, -8.0, 7.3, [-4, 0, 4], 347, 957), ty0=955,
         boxes=[(599, 703, 1010, 1193, 0, 1185, 20, 1059, 1018, 654),
                (872, 975, 1010, 1193, 0, 1184, 20, 1026, 1018, 913),
                (1145, 1237, 1008, 1191, 0, 1185, 60, 1036, 1017, 1192),
                (1429, 1530, 1008, 1192, 0, 1184, 400, 1009, 1016, 1473),
                (1715, 1816, 995, 1194, 0, 1185, 600, 1015, 1003, 1759)]),
    dict(name='Leucine / Isoleucine', frame=(111, 1235, 1618, 1514), label_y=1374,
         species=leu_species, lfc=leu_lfc, titles=leu_titles, p=leu_p,
         g=leu_iss_g, i=leu_iss, og=leu_out_g, oi=leu_out, yt=leu_yticks,
         lolli=(274, 437, 1265, 1485, -6.5, 10.5, [-5, 0, 5, 10], 362, 1252), ty0=1260,
         boxes=[(597, 695, 1300, 1483, 0, 1476, 150, 1336, 1307, 636),
                (864, 962, 1300, 1483, 0, 1475, 200, 1345, 1307, 904),
                (1145, 1242, 1303, 1485, 0, 1481, 750, 1333, 1311, 1187),
                (1424, 1521, 1300, 1482, 0, 1480, 800, 1315, 1307, 1475)]),
    dict(name='Butyric Acid', frame=(111, 1526, 1618, 1805), label_y=1657,
         species=but_species, lfc=but_lfc, titles=but_titles, p=but_p,
         g=but_iss_g, i=but_iss, og=but_out_g, oi=but_out, yt=but_yticks,
         lolli=(279, 447, 1559, 1780, -9.9, 9.3, [-5, 0, 5], 337, 1540), ty0=1535,
         boxes=[(595, 692, 1592, 1774, 0, 1765, 100, 1607, 1601, 630),
                (872, 974, 1592, 1774, 0, 1766, 90, 1631, 1601, 902),
                (1145, 1248, 1590, 1774, 0, 1767, 100, 1601, 1601, 1176),
                (1423, 1523, 1590, 1774, 0, 1768, 400, 1604, 1599, 1486)]),
    dict(name='Malic Acid', frame=(111, 1817, 1618, 2095), label_y=1924,
         species=mal_species, lfc=mal_lfc, titles=mal_titles, p=mal_p,
         g=mal_iss_g, i=mal_iss, og=mal_out_g, oi=mal_out, yt=mal_yticks,
         lolli=(291, 447, 1847, 2067, -3.9, 9.7, [-3, 0, 3, 6, 9], 334, 1833), ty0=1830,
         boxes=[(600, 701, 1893, 2051, 0, 2044, 90, 1927, 1899, 645),
                (883, 982, 1893, 2051, 0, 2043, 75, 1921, 1899, 911),
                (1145, 1250, 1890, 2051, 0, 2043, 150, 1897, 1898, 1185),
                (1430, 1527, 1893, 2051, 0, 2044, 150, 1900, 1899, 1492)]),
]

for row in f_rows:
    x0, y0, x1, y1 = row['frame']
    frect(x0, y0, x1, y1, fill=False, lw=2.6, edgecolor='black')
    ftext(84, row['label_y'], row['name'], rotation=90, family=WIDE, weight='bold', fontsize=22)

    lx0, lx1, lt, lb, xmn, xmx, xt, tx, tyy = row['lolli']
    ax = px_axes(lx0, lt, lx1, lb)
    n = len(row['species'])
    ypos = np.arange(n, 0, -1)
    for yv, vals in zip(ypos, row['lfc']):
        for v in vals:
            ax.plot([0, v], [yv, yv], color='#c2c2c2', lw=5.5, solid_capstyle='butt', zorder=1)
        ax.scatter(vals, [yv] * len(vals), s=105, color=RED, zorder=3, linewidths=0)
        ax.scatter([0], [yv], s=105, color='black', zorder=4, linewidths=0)
    ax.set_xlim(xmn, xmx)
    ax.set_ylim(0.4, n + 0.6)
    ax.set_yticks(ypos, row['species'])
    ax.set_xticks(xt)
    style(ax, fs=13 * NS, lw=1.2)
    ax.tick_params(axis='y', labelsize=12.5 * NS, length=3)
    ftext(tx, tyy, 'Log Fold Change ISS from ISS_G', weight='bold', fontsize=14.5 * NS)

    for j, lay in enumerate(row['boxes']):
        c1, c2, top, bot, va, pa, vb, pb, brk, tcx = lay
        sp_ = c2 - c1
        ax = px_axes(c1 - 0.6 * sp_, top, c2 + 0.6 * sp_, bot)
        draw_bxp(ax, [five(row['g'][j], row['og'][j]), five(row['i'][j], row['oi'][j])],
                 [BLUE, RED], [1, 2], 0.75, lw=1.3, med_lw=3.0, ms=6.5)
        ax.set_ylim(*lim_from_px(va, pa, vb, pb, top, bot))
        ax.set_xlim(0.4, 2.6)
        ax.set_yticks(row['yt'][j])
        ax.set_xticks([1, 2], groups)
        style(ax, fs=13 * NS, lw=1.5)
        ax.tick_params(axis='x', labelsize=14 * NS)
        yb = val_at_px(va, pa, vb, pb, brk)
        drop = abs(val_at_px(va, pa, vb, pb, brk + 7) - yb)
        bracket(ax, yb, drop, lw=1.4)
        ftext((c1 + c2) / 2, brk - 10, row['p'][j], fontsize=14 * NS)
        for k, line in enumerate(row['titles'][j]):
            ftext(tcx, row['ty0'] + 18.5 * k, line, weight='bold',
                  style='italic' if k == 0 else 'normal', fontsize=13.2 * NS)
        if j == 0:
            ftext(490, (top + bot) / 2, 'Enzyme Abundance', rotation=90, family=WIDE,
                  weight='bold', fontsize=12)

fig.savefig('out.png', dpi=100)
